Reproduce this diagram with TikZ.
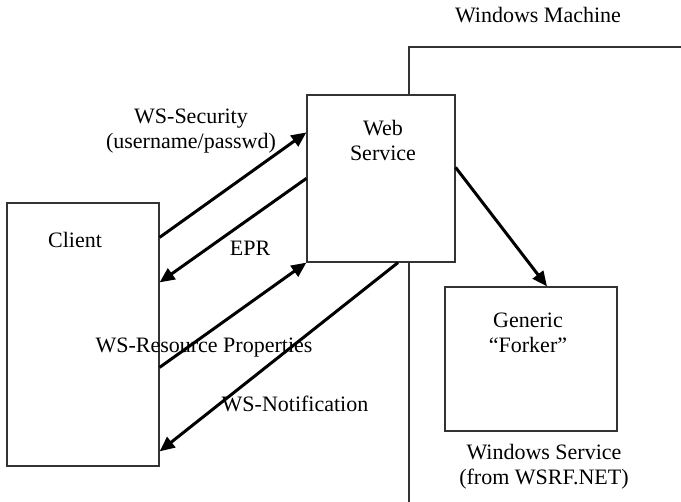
\documentclass[tikz,border=0pt]{standalone}
\usepackage{fontspec}
\setmainfont{Liberation Serif}
\usepackage{tikz}
\usetikzlibrary{arrows.meta,positioning}

\begin{document}
\begin{tikzpicture}[
  x=0.5pt, y=-0.5pt,
  box/.style={rectangle, draw=black!80, line width=0.6pt, fill=white,
              inner sep=0pt, minimum width=#1},
  txt/.style={font=\fontsize{11}{12.5}\selectfont, align=center, inner sep=1pt},
  arr/.style={-{Triangle[length=7.5pt, width=6.5pt]}, line width=1.5pt, black},
]
  \useasboundingbox (0,0) rectangle (681,502);

  % Machine boundary
  \draw[black!80, line width=0.6pt] (409,502) -- (409,47) -- (681,47);
  \node[txt] (machine) at (538,15) {Windows Machine};

  % Boxes
  \node[box=76pt, minimum height=131.5pt] (client) at (83,334.5) {};
  \node[txt] (clientlbl) at (75,240) {Client};

  \node[box=74pt, minimum height=83.5pt] (ws) at (381,178.5) {};
  \node[txt] (wslbl) at (383,140) {Web\\Service};

  \node[box=86pt, minimum height=72pt] (forker) at (531,359) {};
  \node[txt] (forkerlbl) at (528,333) {Generic\\“Forker”};
  \node[txt, below=5pt, xshift=6.5pt] (winsvc) at (forker.south) {Windows Service\\(from WSRF.NET)};

  % Arrows
  \draw[arr] ([yshift=-17.5pt]client.north east) -- ([yshift=-19pt]ws.north west);
  \draw[arr] ([yshift=-42pt]ws.north west) -- ([yshift=-40pt]client.north east);
  \draw[arr] ([yshift=-82.5pt]client.north east) -- (ws.south west);
  \draw[arr] ([xshift=8.5pt]ws.south) -- ([yshift=-124.5pt]client.north east);
  \draw[arr] ([yshift=-36.5pt]ws.north east) -- ([xshift=8pt]forker.north);

  % Labels
  \node[txt] (seclbl) at (191,131.5) {WS-Security\\(username/passwd)};
  \node[txt] (eprlbl) at (250,248) {EPR};
  \node[txt] (rplbl) at (204,348) {WS-Resource Properties};
  \node[txt] (notlbl) at (295,404) {WS-Notification};

\end{tikzpicture}
\end{document}
